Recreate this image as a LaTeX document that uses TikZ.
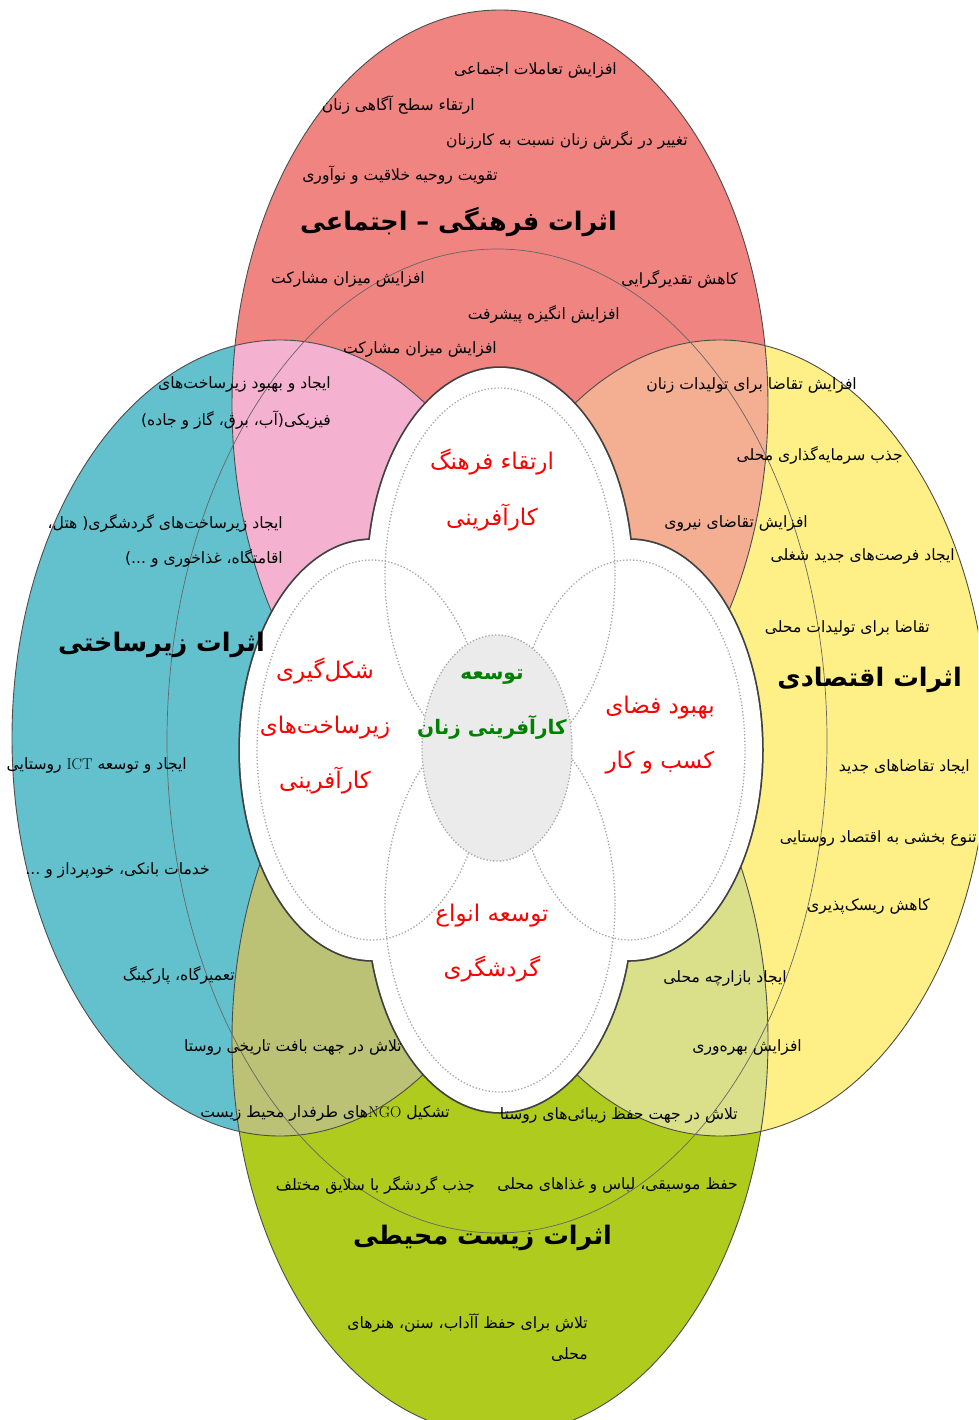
\documentclass[tikz,border=0pt]{standalone}
\usepackage{fontspec}
\newfontfamily\fa[Script=Arabic]{DejaVu Sans}
\TeXXeTstate=1
\newcommand{\fatxt}[1]{{\fa\beginR #1\endR}}

\definecolor{socred}{HTML}{F08481}
\definecolor{infblue}{HTML}{63C1CE}
\definecolor{ecoyellow}{HTML}{FEF087}
\definecolor{envgreen}{HTML}{AECB1E}
\definecolor{socinf}{HTML}{F4B2D0}
\definecolor{soceco}{HTML}{F4AE92}
\definecolor{infenv}{HTML}{BBC276}
\definecolor{ecoenv}{HTML}{DAE08A}
\definecolor{coregray}{HTML}{EBEBEB}
\definecolor{coregreen}{HTML}{008000}

\begin{document}
\begin{tikzpicture}[x=1pt,y=-1pt,
  every node/.style={inner sep=0pt},
  item/.style={anchor=east, font=\fa\fontsize{15.6}{18}\selectfont},
  head/.style={anchor=east, font=\fa\bfseries\fontsize{25.5}{30}\selectfont},
  petaltext/.style={text=red, align=center, font=\fa\fontsize{23}{55}\selectfont},
  rim/.style={draw=black!70, line width=0.9pt}]
\useasboundingbox (0,0) rectangle (978,1420);
\clip (0,0) rectangle (978,1420);

% Four impact ellipses
\fill[socred] (500,405) ellipse [x radius=268, y radius=395];
\fill[infblue] (280,738) ellipse [x radius=268, y radius=398];
\fill[ecoyellow] (720,738) ellipse [x radius=268, y radius=398];
\fill[envgreen] (500,1040) ellipse [x radius=268, y radius=395];

% Overlaps
\begin{scope}
  \clip (500,405) ellipse [x radius=268, y radius=395];
  \fill[socinf] (280,738) ellipse [x radius=268, y radius=398];
  \fill[soceco] (720,738) ellipse [x radius=268, y radius=398];
\end{scope}
\begin{scope}
  \clip (500,1040) ellipse [x radius=268, y radius=395];
  \fill[infenv] (280,738) ellipse [x radius=268, y radius=398];
  \fill[ecoenv] (720,738) ellipse [x radius=268, y radius=398];
\end{scope}

% Outlines
\draw[rim] (500,405) ellipse [x radius=268, y radius=395];
\draw[rim] (280,738) ellipse [x radius=268, y radius=398];
\draw[rim] (720,738) ellipse [x radius=268, y radius=398];
\draw[rim] (500,1040) ellipse [x radius=268, y radius=395];
\draw[draw=black!60, line width=0.7pt] (497,741) ellipse [x radius=330, y radius=492];

% Flower of petals
\foreach \c/\ry in {(500,575)/207, (500,905)/207, (372,750)/210, (630,750)/210}
  \draw[black!75, line width=3.5pt] \c ellipse [x radius=132, y radius=\ry];
\foreach \c/\ry in {(500,575)/207, (500,905)/207, (372,750)/210, (630,750)/210}
  \fill[white] \c ellipse [x radius=132, y radius=\ry];
\foreach \c/\ry in {(500,575)/207, (500,905)/207, (372,750)/210, (630,750)/210}
  \draw[black!35, dotted, line width=1.3pt] \c ellipse [x radius=115, y radius=\ry-20];
\fill[coregray] (497,748) ellipse [x radius=75, y radius=113];
\draw[black!35, dotted, line width=1.3pt] (497,748) ellipse [x radius=75, y radius=113];

% Socio-cultural
\node[item] (soc1) at (617,70) {\fatxt{افزایش تعاملات اجتماعی}};
\node[item] (soc2) at (475,105) {\fatxt{ارتقاء سطح آگاهی زنان}};
\node[item] (soc3) at (688,140) {\fatxt{تغییر در نگرش زنان نسبت به کارزنان}};
\node[item] (soc4) at (498,175) {\fatxt{تقویت روحیه خلاقیت و نوآوری}};
\node[head] (tsoc) at (617,222) {\fatxt{اثرات فرهنگی – اجتماعی}};
\node[item] (soc5) at (425,279) {\fatxt{افزایش میزان مشارکت}};
\node[item] (soc6) at (738,279) {\fatxt{کاهش تقدیرگرایی}};
\node[item] (soc7) at (620,314) {\fatxt{افزایش انگیزه پیشرفت}};
\node[item] (soc8) at (497,349) {\fatxt{افزایش میزان مشارکت}};

% Infrastructure
\node[item] (inf1) at (331,384) {\fatxt{ایجاد و بهبود زیرساخت‌های}};
\node[item] (inf2) at (331,420) {\fatxt{فیزیکی(آب، برق، گاز و جاده)}};
\node[item] (inf3) at (283,523) {\fatxt{ایجاد زیرساخت‌های گردشگری( هتل،}};
\node[item] (inf4) at (283,558) {\fatxt{اقامتگاه، غذاخوری و ...)}};
\node[head] (tinf) at (265,645) {\fatxt{اثرات زیرساختی}};
\node[item] (inf5) at (187,765) {\fatxt{ایجاد و توسعه \beginL{\rmfamily ICT}\endL{} روستایی}};
\node[item] (inf6) at (210,870) {\fatxt{خدمات بانکی، خودپرداز و ...}};
\node[item] (inf7) at (235,975) {\fatxt{تعمیرگاه، پارکینگ}};
\node[item] (inf8) at (402,1047) {\fatxt{تلاش در جهت بافت تاریخی روستا}};
\node[item] (inf9) at (450,1113) {\fatxt{تشکیل \beginL{\rmfamily NGO}\endL های طرفدار محیط زیست}};

% Economic
\node[item] (eco1) at (857,385) {\fatxt{افزایش تقاضا برای تولیدات زنان}};
\node[item] (eco2) at (903,455) {\fatxt{جذب سرمایه‌گذاری محلی}};
\node[item] (eco3) at (808,523) {\fatxt{افزایش تقاضای نیروی}};
\node[item] (eco4) at (955,556) {\fatxt{ایجاد فرصت‌های جدید شغلی}};
\node[item] (eco5) at (930,628) {\fatxt{تقاضا برای تولیدات محلی}};
\node[head] (teco) at (962,680) {\fatxt{اثرات اقتصادی}};
\node[item] (eco6) at (970,767) {\fatxt{ایجاد تقاضاهای جدید}};
\node[item] (eco7) at (977,838) {\fatxt{تنوع بخشی به اقتصاد روستایی}};
\node[item] (eco8) at (930,906) {\fatxt{کاهش ریسک‌پذیری}};
\node[item] (eco9) at (787,978) {\fatxt{ایجاد بازارچه محلی}};
\node[item] (eco10) at (802,1047) {\fatxt{افزایش بهره‌وری}};
\node[item] (eco11) at (738,1115) {\fatxt{تلاش در جهت حفظ زیبائی‌های روستا}};

% Environmental
\node[item] (env1) at (738,1185) {\fatxt{حفظ موسیقی، لباس و غذاهای محلی}};
\node[item] (env2) at (475,1185) {\fatxt{جذب گردشگر با سلایق مختلف}};
\node[head] (tenv) at (612,1238) {\fatxt{اثرات زیست محیطی}};
\node[item] (env3) at (588,1323) {\fatxt{تلاش برای حفظ آآداب، سنن، هنرهای}};
\node[item] (env4) at (588,1355) {\fatxt{محلی}};

% Petals
\node[petaltext] (ptop) at (492,490) {\fatxt{ارتقاء فرهنگ}\\\fatxt{کارآفرینی}};
\node[petaltext] (pleft) at (325,726) {\fatxt{شکل‌گیری}\\\fatxt{زیرساخت‌های}\\\fatxt{کارآفرینی}};
\node[petaltext] (pright) at (660,735) {\fatxt{بهبود فضای}\\\fatxt{کسب و کار}};
\node[petaltext] (pbot) at (492,943) {\fatxt{توسعه انواع}\\\fatxt{گردشگری}};
\node[petaltext, text=coregreen, font=\fa\bfseries\fontsize{20}{55}\selectfont] (core) at (492,705) {\fatxt{توسعه}\\\fatxt{کارآفرینی زنان}};
\end{tikzpicture}
\end{document}
